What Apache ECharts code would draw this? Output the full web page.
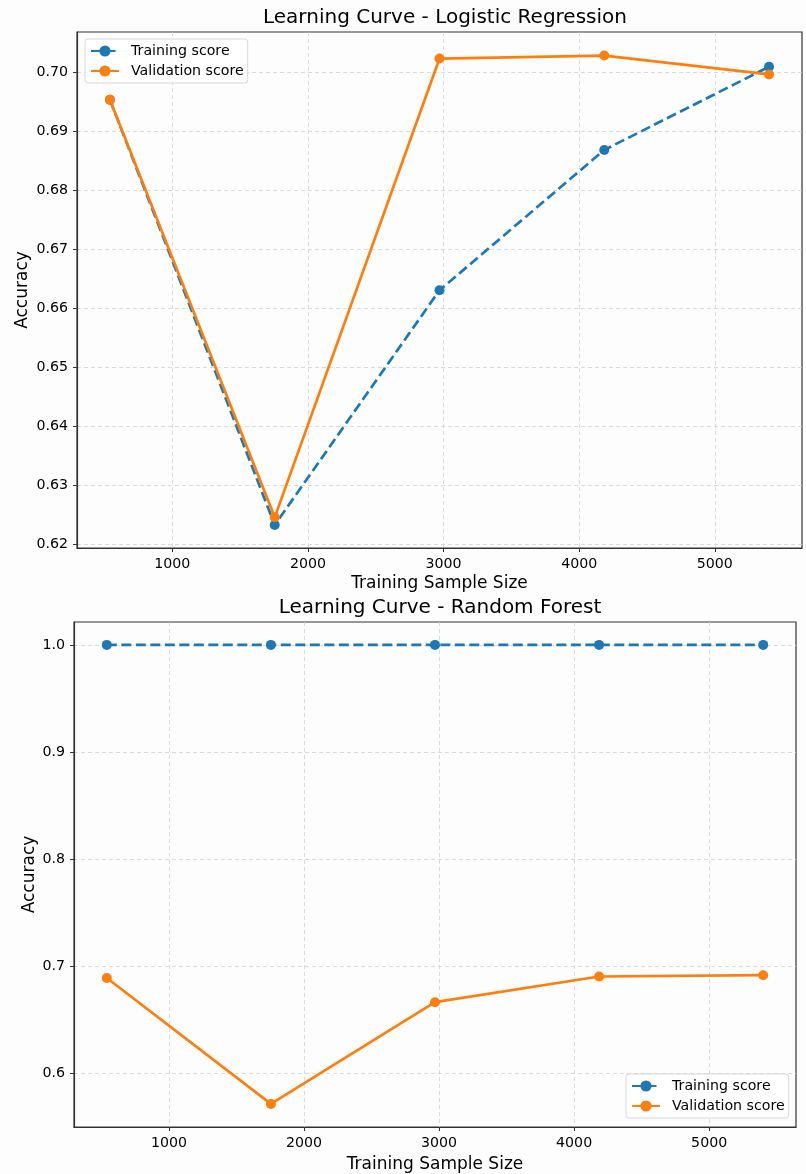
<!DOCTYPE html>
<html>
<head>
<meta charset="utf-8">
<title>Learning Curves</title>
<script src="https://cdn.jsdelivr.net/npm/echarts@6/dist/echarts.min.js"></script>
<style>
  html, body { margin: 0; padding: 0; background: #fdfdfd; }
  #chart { width: 806px; height: 1174px; }
</style>
</head>
<body>
<div id="chart"></div>
<script>
// training sizes shared by both models
const trainSizes = [540, 1755, 2970, 4185, 5400]

// logistic regression
const lrTrain = [0.6954, 0.6233, 0.6631, 0.6869, 0.7010]
const lrValid = [0.6954, 0.6246, 0.7024, 0.7029, 0.6997]

// random forest
const rfTrain = [1.0, 1.0, 1.0, 1.0, 1.0]
const rfValid = [0.6888, 0.5712, 0.6662, 0.6902, 0.6914]

const xTicks = [1000, 2000, 3000, 4000, 5000]
const lrYTicks = [0.62, 0.63, 0.64, 0.65, 0.66, 0.67, 0.68, 0.69, 0.70]
const rfYTicks = [0.6, 0.7, 0.8, 0.9, 1.0]

const FONT = 'DejaVu Sans'
const BLUE = '#1f77b4'
const ORANGE = '#ff7f0e'

function pairs(xs, ys) {
  return xs.map((x, i) => [x, ys[i]])
}

function xAxisOf(gridIndex, nameGap) {
  return {
    type: 'value',
    gridIndex: gridIndex,
    min: 297,
    max: 5643,
    name: 'Training Sample Size',
    nameLocation: 'middle',
    nameGap: nameGap,
    nameMoveOverlap: false,
    nameTextStyle: { fontFamily: FONT, fontSize: 17, color: '#000' },
    axisLine: { show: true, onZero: false, lineStyle: { color: '#333', width: 1.2 } },
    axisTick: { show: true, length: 4, customValues: xTicks, lineStyle: { color: '#333' } },
    axisLabel: {
      customValues: xTicks,
      margin: 9,
      fontFamily: FONT,
      fontSize: 14.2,
      color: '#000',
      formatter: (v) => String(v)
    },
    splitLine: { show: true, lineStyle: { color: '#d0d0d0', type: [4, 3], width: 0.8 } }
  }
}

function yAxisOf(gridIndex, min, max, ticks, digits, nameGap) {
  return {
    type: 'value',
    gridIndex: gridIndex,
    min: min,
    max: max,
    name: 'Accuracy',
    nameLocation: 'middle',
    nameGap: nameGap,
    nameRotate: 90,
    nameMoveOverlap: false,
    nameTextStyle: { fontFamily: FONT, fontSize: 17, color: '#000' },
    axisLine: { show: true, onZero: false, lineStyle: { color: '#333', width: 1.2 } },
    axisTick: { show: true, length: 4, customValues: ticks, lineStyle: { color: '#333' } },
    axisLabel: {
      customValues: ticks,
      margin: 9,
      fontFamily: FONT,
      fontSize: 14.2,
      color: '#000',
      formatter: (v) => v.toFixed(digits)
    },
    splitLine: { show: true, lineStyle: { color: '#d0d0d0', type: [4, 3], width: 0.8 } }
  }
}

function seriesOf(name, idx, data, color, dashed) {
  return {
    name: name,
    type: 'line',
    xAxisIndex: idx,
    yAxisIndex: idx,
    data: data,
    symbol: 'circle',
    symbolSize: 10,
    showSymbol: true,
    color: color,
    lineStyle: { color: color, width: 2.7, type: dashed ? [10, 4.5] : 'solid' },
    itemStyle: { color: color },
    emphasis: { disabled: true },
    animation: false
  }
}

function legendOf(idx, left, top) {
  return {
    id: 'legend' + idx,
    orient: 'vertical',
    left: left,
    top: top,
    data: ['Training score', 'Validation score'],
    itemWidth: 28,
    itemHeight: 14,
    itemGap: 6,
    padding: [5, 4, 5, 5],
    backgroundColor: 'rgba(255,255,255,0.8)',
    borderColor: '#d8d8d8',
    borderWidth: 1,
    borderRadius: 3,
    textStyle: { fontFamily: FONT, fontSize: 14.2, color: '#000', padding: [0, 0, 0, 7] },
    selectedMode: false
  }
}

const chart = echarts.init(document.getElementById('chart'))

const option = {
  backgroundColor: '#fdfdfd',
  animation: false,
  title: [
    {
      text: 'Learning Curve - Logistic Regression',
      left: 440,
      top: 3,
      textAlign: 'center',
      textStyle: { fontFamily: FONT, fontSize: 20, fontWeight: 'normal', color: '#000' }
    },
    {
      text: 'Learning Curve - Random Forest',
      left: 435,
      top: 593,
      textAlign: 'center',
      textStyle: { fontFamily: FONT, fontSize: 20, fontWeight: 'normal', color: '#000' }
    }
  ],
  grid: [
    { left: 77, top: 32, width: 725, height: 516, show: true, borderColor: '#333', borderWidth: 1.2, backgroundColor: 'transparent' },
    { left: 74, top: 622, width: 722, height: 505, show: true, borderColor: '#333', borderWidth: 1.2, backgroundColor: 'transparent' }
  ],
  legend: [
    legendOf(0, 85, 39),
    legendOf(1, 626, 1074)
  ],
  xAxis: [xAxisOf(0, 27), xAxisOf(1, 29)],
  yAxis: [
    yAxisOf(0, 0.6194, 0.7069, lrYTicks, 2, 46),
    yAxisOf(1, 0.5496, 1.0214, rfYTicks, 1, 36)
  ],
  series: [
    seriesOf('Training score', 0, pairs(trainSizes, lrTrain), BLUE, true),
    seriesOf('Validation score', 0, pairs(trainSizes, lrValid), ORANGE, false),
    seriesOf('Training score', 1, pairs(trainSizes, rfTrain), BLUE, true),
    seriesOf('Validation score', 1, pairs(trainSizes, rfValid), ORANGE, false)
  ]
}

chart.setOption(option)
</script>
</body>
</html>
